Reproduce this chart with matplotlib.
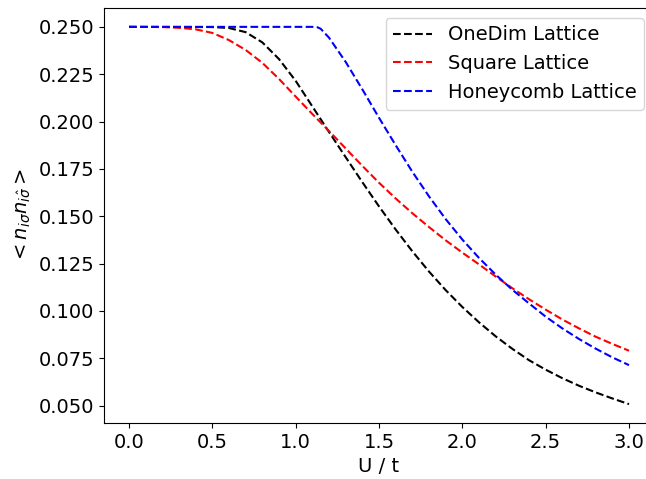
import matplotlib
matplotlib.use("Agg")
import matplotlib.pyplot as plt

u_onedim = [0.0, 0.5, 0.6, 0.7, 0.8, 0.9, 1.0, 1.1, 1.2, 1.3, 1.4, 1.5, 1.6, 1.7, 1.8,
            1.9, 2.0, 2.1, 2.2, 2.3, 2.4, 2.5, 2.6, 2.7, 2.8, 2.9, 3.0]
onedim = [0.25, 0.2499, 0.2494, 0.2472, 0.2418, 0.2330, 0.2215, 0.2080, 0.1945, 0.1812,
          0.1680, 0.1552, 0.1430, 0.1315, 0.1208, 0.1110, 0.1021, 0.0940, 0.0866, 0.0800,
          0.0740, 0.0690, 0.0645, 0.0605, 0.0570, 0.0538, 0.0508]

u_square = [0.0, 0.2, 0.3, 0.4, 0.5, 0.6, 0.7, 0.8, 0.9, 1.0, 1.1, 1.2, 1.3, 1.4, 1.5,
            1.6, 1.7, 1.8, 1.9, 2.0, 2.1, 2.2, 2.3, 2.4, 2.5, 2.6, 2.7, 2.8, 2.9, 3.0]
square = [0.25, 0.2499, 0.2495, 0.2487, 0.2468, 0.2430, 0.2378, 0.2310, 0.2225, 0.2132,
          0.2040, 0.1950, 0.1858, 0.1766, 0.1677, 0.1594, 0.1516, 0.1443, 0.1373, 0.1308,
          0.1246, 0.1182, 0.1120, 0.1062, 0.1007, 0.0955, 0.0908, 0.0864, 0.0826, 0.0790]

u_honey = [0.0, 1.0, 1.1, 1.13, 1.15, 1.2, 1.3, 1.4, 1.5, 1.6, 1.7, 1.8, 1.9, 2.0,
           2.1, 2.2, 2.3, 2.4, 2.5, 2.6, 2.7, 2.8, 2.9, 3.0]
honey = [0.25, 0.25, 0.25, 0.2498, 0.2490, 0.2443, 0.2315, 0.2170, 0.2020, 0.1875,
         0.1735, 0.1605, 0.1485, 0.1377, 0.1280, 0.1192, 0.1112, 0.1040, 0.0970, 0.0908,
         0.0852, 0.0801, 0.0755, 0.0714]

labels = ["OneDim Lattice", "Square Lattice", "Honeycomb Lattice"]
colors = ["black", "red", "blue"]

fig = plt.figure(figsize=(6.46, 4.79), dpi=100)
ax = fig.add_axes([104 / 646, 56 / 479, 550 / 646, 415 / 479])

ax.plot(u_onedim, onedim, "--", color=colors[0], label=labels[0])
ax.plot(u_square, square, "--", color=colors[1], label=labels[1])
ax.plot(u_honey, honey, "--", color=colors[2], label=labels[2])

ax.set_xlabel("U / t", fontsize=14)
ax.set_ylabel(r"$< n_{i\sigma} n_{i\hat{\sigma}} >$", fontsize=14)
ax.tick_params(labelsize=14)
ax.set_xticks([0.0, 0.5, 1.0, 1.5, 2.0, 2.5, 3.0])
ax.set_yticks([0.05, 0.075, 0.1, 0.125, 0.15, 0.175, 0.2, 0.225, 0.25])
ax.legend(loc="upper right", fontsize=14)

fig.savefig("out.png", dpi=100)
